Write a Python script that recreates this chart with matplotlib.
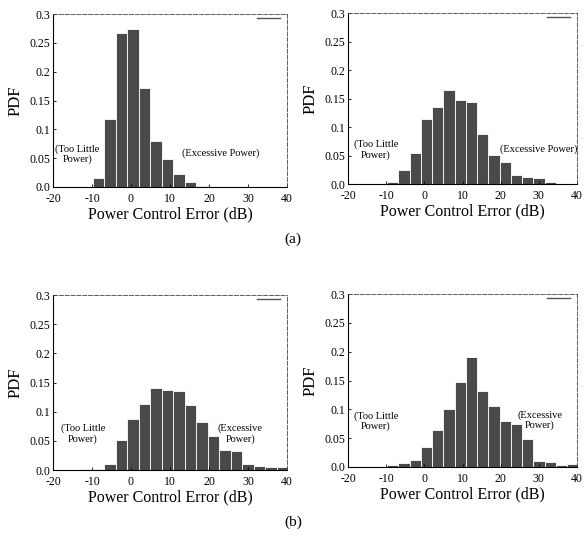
import matplotlib.pyplot as plt

# histogram bins (left edges, dB) shared by all four panels
bin_left = [-12.75, -9.8, -6.85, -3.9, -0.95, 2.0, 4.95, 7.9, 10.85, 13.8,
            16.75, 19.7, 22.65, 25.6, 28.55, 31.5, 34.45, 37.4]
bin_width = 2.95

pdf_a1 = [0, 0.015, 0.118, 0.268, 0.274, 0.171, 0.080, 0.049, 0.023, 0.009,
          0.002, 0, 0, 0, 0, 0, 0, 0]
pdf_a2 = [0, 0.0035, 0.025, 0.054, 0.114, 0.135, 0.165, 0.147, 0.144, 0.088,
          0.051, 0.038, 0.016, 0.012, 0.010, 0.0035, 0, 0]
pdf_b1 = [0.001, 0.002, 0.011, 0.051, 0.087, 0.113, 0.140, 0.138, 0.135, 0.112,
          0.082, 0.059, 0.035, 0.033, 0.011, 0.007, 0.006, 0.005]
pdf_b2 = [0, 0.0035, 0.007, 0.012, 0.034, 0.065, 0.100, 0.147, 0.190, 0.132,
          0.106, 0.079, 0.074, 0.048, 0.011, 0.009, 0.004, 0.006]

x_ticks = [-20, -10, 0, 10, 20, 30, 40]
y_ticks = [0.0, 0.05, 0.1, 0.15, 0.2, 0.25, 0.3]
y_tick_labels = ['0.0', '0.05', '0.1', '0.15', '0.2', '0.25', '0.3']

# (pdf, axes rect, left note, right note)
panels = [
    (pdf_a1, [0.0903, 0.655, 0.3986, 0.319],
     ('(Too Little\nPower)', -13.8, 0.057), ('(Excessive Power)', 23, 0.058)),
    (pdf_a2, [0.593, 0.6605, 0.390, 0.3155],
     ('(Too Little\nPower)', -12.7, 0.060), ('(Excessive Power)', 30, 0.061)),
    (pdf_b1, [0.0903, 0.1328, 0.3986, 0.3229],
     ('(Too Little\nPower)', -12.3, 0.062), ('(Excessive\nPower)', 28, 0.062)),
    (pdf_b2, [0.593, 0.1384, 0.390, 0.319],
     ('(Too Little\nPower)', -12.7, 0.080), ('(Excessive\nPower)', 30.3, 0.081)),
]

plt.rcParams['font.family'] = ['Liberation Serif', 'DejaVu Serif']
plt.rcParams['axes.unicode_minus'] = False

fig = plt.figure(figsize=(5.87, 5.42), dpi=100)

for pdf, rect, note_l, note_r in panels:
    ax = fig.add_axes(rect)
    ax.bar(bin_left, pdf, width=bin_width, align='edge',
           color='#4a4a4a', edgecolor='white', linewidth=0.6)
    ax.set_xlim(-20, 40)
    ax.set_ylim(0, 0.3)
    ax.set_xticks(x_ticks)
    ax.set_yticks(y_ticks)
    ax.set_yticklabels(y_tick_labels)
    ax.tick_params(direction='in', length=2.5, width=0.6, labelsize=8.5)
    ax.tick_params(axis='x', pad=4)
    ax.tick_params(axis='y', pad=2)
    ax.set_xlabel('Power Control Error (dB)', fontsize=11.5, labelpad=1)
    ax.set_ylabel('PDF', fontsize=12, labelpad=4)
    for side in ['left', 'bottom']:
        ax.spines[side].set_linewidth(0.8)
    for side in ['top', 'right']:
        ax.spines[side].set_linewidth(0.6)
        ax.spines[side].set_linestyle((0, (5, 2)))
        ax.spines[side].set_color('#444444')
    ax.plot([0.87, 0.97], [0.975, 0.975], transform=ax.transAxes,
            color='#555555', linewidth=1.0)
    for txt, x, y in (note_l, note_r):
        ax.text(x, y, txt, fontsize=7.5, ha='center', va='center',
                linespacing=1.1)

fig.text(0.499, 1 - 239 / 542, '(a)', fontsize=11, ha='center', va='center')
fig.text(0.499, 1 - 522 / 542, '(b)', fontsize=11, ha='center', va='center')

plt.savefig('out.png', dpi=100)
